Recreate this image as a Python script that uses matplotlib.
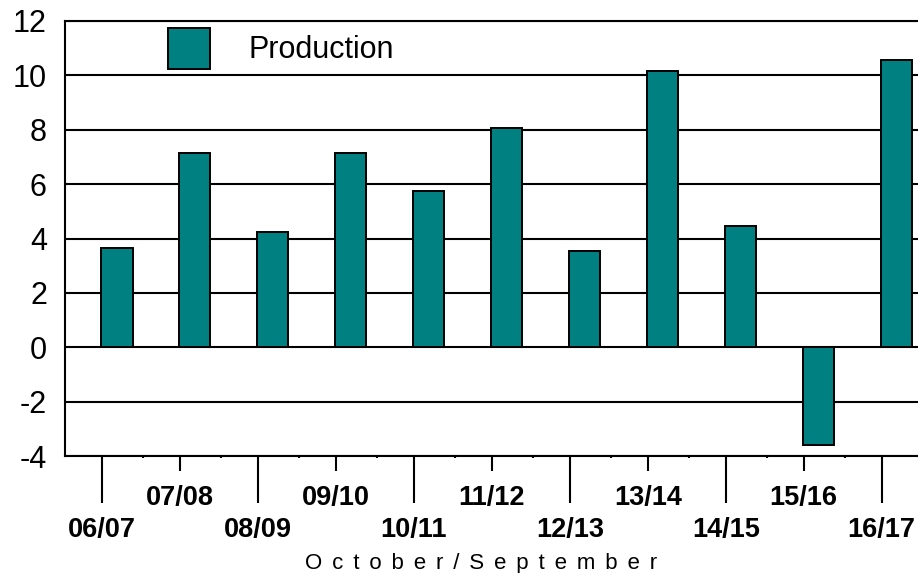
import matplotlib
matplotlib.use('Agg')
import matplotlib.pyplot as plt
import numpy as np

# marketing years October / September
seasons = ['06/07', '07/08', '08/09', '09/10', '10/11', '11/12',
           '12/13', '13/14', '14/15', '15/16', '16/17']
production = [3.65, 7.15, 4.25, 7.15, 5.75, 8.05, 3.55, 10.15, 4.45, -3.6, 10.55]

plt.rcParams['font.family'] = ['Liberation Sans', 'DejaVu Sans']
plt.rcParams['axes.unicode_minus'] = False

fig = plt.figure(figsize=(9.18, 5.73), dpi=100)
ax = fig.add_axes([65/918, 1 - 456/573, 1 - 65/918 + 0.002, (456 - 21)/573])

x = np.arange(len(seasons))
ax.bar(x + 0.19, production, width=0.40, color='#008080', edgecolor='black',
       linewidth=1.4, zorder=3, label='Production')

ax.set_xlim(-0.476, 10.49)
ax.set_ylim(-4, 12)
ax.set_yticks(np.arange(-4, 13, 2))
ax.tick_params(axis='y', length=0, pad=13, labelsize=22)
ax.yaxis.grid(True, color='black', linewidth=1.5, zorder=0)
ax.set_axisbelow(True)

for s in ['left', 'top', 'bottom']:
    ax.spines[s].set_linewidth(1.5)
ax.spines['right'].set_visible(False)

# long ticks for even seasons, short ticks for odd ones
ax.set_xticks(x[::2], [seasons[i] for i in x[::2]])
ax.set_xticks(x[1::2], [seasons[i] for i in x[1::2]], minor=True)
ax.tick_params(axis='x', which='major', direction='out', length=34, width=1.5,
               pad=10, labelsize=19.5)
ax.tick_params(axis='x', which='minor', direction='out', length=11, width=1.5,
               pad=10, labelsize=19.5)
for lab in ax.get_xticklabels(which='both'):
    lab.set_fontweight('bold')

# tiny marks on category boundaries
sec = ax.secondary_xaxis('bottom')
sec.set_xticks(x[:-1] + 0.53, [''] * (len(x) - 1))
sec.tick_params(length=1.5, width=1.5)
sec.spines['bottom'].set_visible(False)

gap = ' \u2006'
fig.text(481/918, 1 - 563/573, gap.join('October/September'),
         ha='center', va='center', fontsize=16)

ax.legend(loc='upper left', bbox_to_anchor=(0.12, 0.985), frameon=False,
          fontsize=22, handlelength=1.4, handleheight=1.7,
          handletextpad=1.25, borderpad=0, borderaxespad=0)

plt.savefig('out.png', dpi=100)
